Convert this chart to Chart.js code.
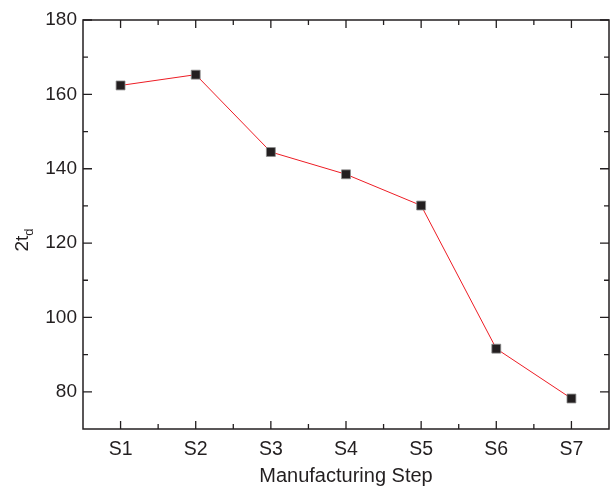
<!DOCTYPE html>
<html><head><meta charset="utf-8">
<script src="https://cdn.jsdelivr.net/npm/chart.js@4/dist/chart.umd.min.js"></script>
<style>html,body{margin:0;padding:0;background:#fff}#wrap{width:612px;height:486px}</style>
</head><body><div id="wrap"><canvas id="c" width="612" height="486"></canvas></div>
<script>
// ---- data ----
const categories = ['S1','S2','S3','S4','S5','S6','S7'];
const steps = [1,2,3,4,5,6,7];
const values = [162.4,165.3,144.5,138.5,130.1,91.6,78.2];
const yMajorTicks = [80,100,120,140,160,180];
const yMinorTicks = [90,110,130,150,170];
const xMinorTicks = [1.5,2.5,3.5,4.5,5.5,6.5];
const xTitle = 'Manufacturing Step';
const yTitleMain = '2t';
const yTitleSub = 'd';

const AX = '#231f20';
const FONT = '"Liberation Sans", Arial, Helvetica, sans-serif';

const framePlugin = {
  id: 'frame',
  afterDraw(chart) {
    const {ctx, chartArea: a, scales: {x, y}} = chart;
    ctx.save();
    ctx.strokeStyle = AX;
    ctx.lineWidth = 1.5;
    ctx.strokeRect(a.left, a.top, a.right - a.left, a.bottom - a.top);
    ctx.lineWidth = 1.3;
    ctx.beginPath();
    const xt = (v, len) => {
      const p = x.getPixelForValue(v);
      ctx.moveTo(p, a.bottom); ctx.lineTo(p, a.bottom - len);
      ctx.moveTo(p, a.top); ctx.lineTo(p, a.top + len);
    };
    const yt = (v, len) => {
      const p = y.getPixelForValue(v);
      ctx.moveTo(a.left, p); ctx.lineTo(a.left + len, p);
      ctx.moveTo(a.right, p); ctx.lineTo(a.right - len, p);
    };
    steps.forEach(v => xt(v, 8));
    xMinorTicks.forEach(v => xt(v, 5));
    yMajorTicks.forEach(v => yt(v, 9));
    yMinorTicks.forEach(v => yt(v, 5));
    ctx.stroke();
    // y title with subscript
    ctx.fillStyle = AX;
    ctx.translate(28, 251.5);
    ctx.rotate(-Math.PI / 2);
    ctx.textAlign = 'left';
    ctx.textBaseline = 'alphabetic';
    ctx.font = '19px ' + FONT;
    ctx.fillText(yTitleMain, 0, 0);
    const w = ctx.measureText(yTitleMain).width;
    ctx.font = '13px ' + FONT;
    ctx.fillText(yTitleSub, w, 5);
    ctx.restore();
  }
};

new Chart(document.getElementById('c'), {
  type: 'line',
  data: {
    datasets: [{
      data: steps.map((s, i) => ({x: s, y: values[i]})),
      borderColor: '#ed1c24',
      borderWidth: 1,
      pointStyle: 'rect',
      pointRadius: 6.3,
      pointHoverRadius: 6.3,
      pointBackgroundColor: AX,
      pointBorderColor: '#8c8c8c',
      pointBorderWidth: 0.8,
      tension: 0
    }]
  },
  options: {
    responsive: false,
    animation: false,
    devicePixelRatio: 1,
    layout: {autoPadding: false, padding: {left: 0, right: 3, top: 20, bottom: 0}},
    plugins: {legend: {display: false}, tooltip: {enabled: false}},
    scales: {
      x: {
        type: 'linear', min: 0.5, max: 7.5,
        afterBuildTicks: s => { s.ticks = steps.map(v => ({value: v})); },
        ticks: {
          callback: v => categories[Math.round(v) - 1],
          font: {family: FONT, size: 19.5}, color: AX, padding: 9,
          maxRotation: 0, autoSkip: false
        },
        grid: {display: false, drawTicks: false},
        border: {display: false},
        title: {display: true, text: xTitle, color: AX,
                font: {family: FONT, size: 20, lineHeight: 1}, padding: {top: 0, bottom: 0}},
        afterFit: s => { s.height = 57; s.paddingLeft = 0; s.paddingRight = 0; }
      },
      y: {
        min: 70, max: 180,
        afterBuildTicks: s => { s.ticks = yMajorTicks.map(v => ({value: v})); },
        ticks: {font: {family: FONT, size: 19}, color: AX, padding: 6},
        grid: {display: false, drawTicks: false},
        border: {display: false},
        afterFit: s => { s.width = 83; s.paddingTop = 0; s.paddingBottom = 0; }
      }
    }
  },
  plugins: [framePlugin]
});
</script>
</body></html>
